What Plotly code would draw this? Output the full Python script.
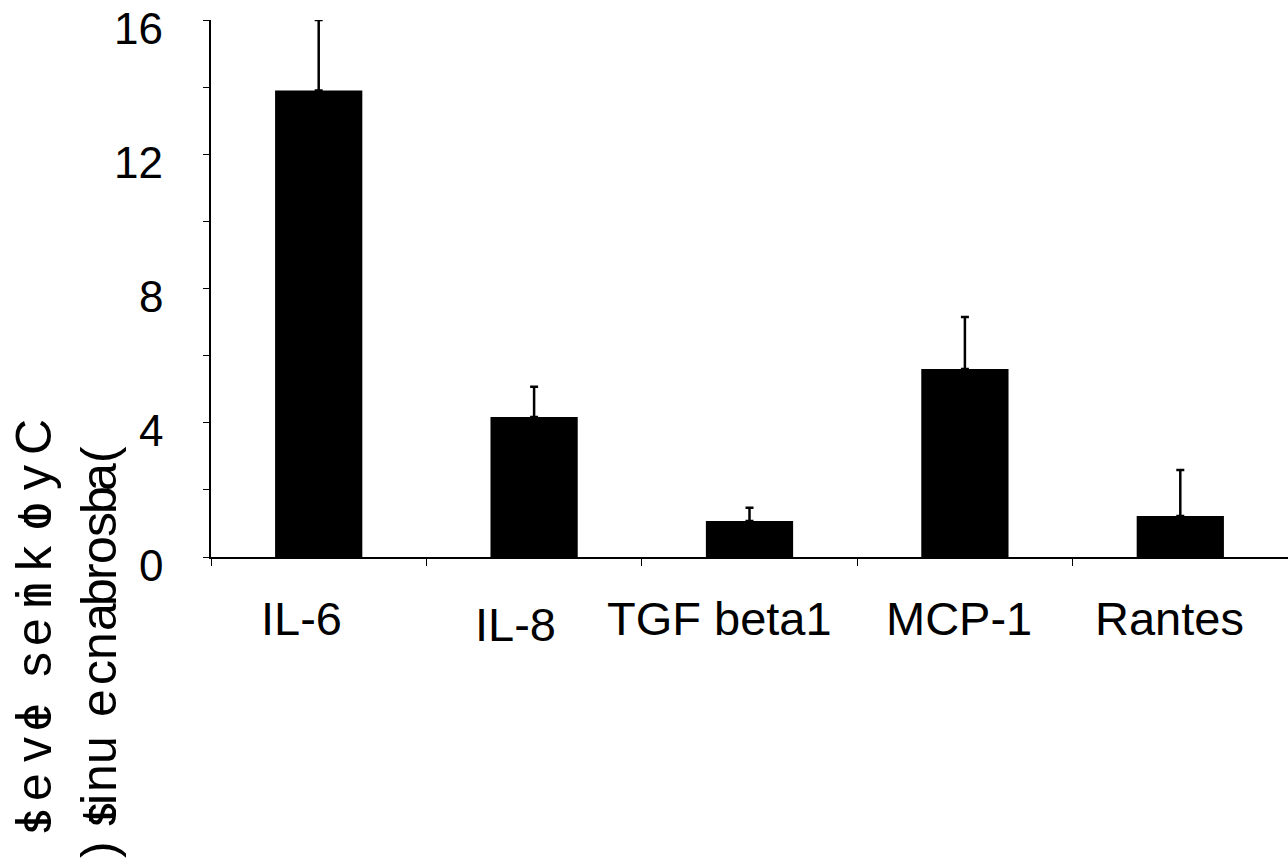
import plotly.graph_objects as go

categories = ["IL-6", "IL-8", "TGF beta1", "MCP-1", "Rantes"]
values = [13.9, 4.17, 1.07, 5.6, 1.22]
errors = [2.1, 0.9, 0.4, 1.55, 1.37]
y_ticks = [0, 4, 8, 12, 16]

FONT = "Liberation Sans, Arial, sans-serif"
W, H = 1288, 860
L, R, T, B = 211, 0, 20, 303
PW, PH = W - L - R, H - T - B

fig = go.Figure()
fig.add_trace(go.Bar(
    x=categories, y=values,
    marker=dict(color="black", line=dict(width=0)),
    width=0.405,
    error_y=dict(type="data", array=errors, arrayminus=[0] * len(errors),
                 symmetric=False, color="black", thickness=2.5, width=4),
))

# y tick labels (sit slightly below their ticks in the reference)
for v in y_ticks:
    fig.add_annotation(x=0, y=v, xref="paper", yref="y", text=str(v), showarrow=False,
                       xanchor="right", yanchor="middle", xshift=-46, yshift=-8,
                       font=dict(family=FONT, size=44, color="black"))

# category labels (slightly offset like the reference)
label_dx = [-17, -19, -30, -6, -11]
label_dy = [-61, -67, -61, -61, -61]
for c, dx, dy in zip(categories, label_dx, label_dy):
    fig.add_annotation(x=c, y=0, xref="x", yref="y", text=c, showarrow=False,
                       xanchor="center", yanchor="middle", xshift=dx, yshift=dy,
                       font=dict(family=FONT, size=47, color="black"))

# garbled rotated y-axis title, glyph by glyph
line1 = [("C", 437), ("y", 478), ("t", 516), ("o", 516), ("k", 558), ("n", 595),
         ("i", 595), ("e", 632), ("s", 665), ("l", 717), ("e", 717), ("v", 750),
         ("e", 787), ("l", 822), ("s", 822)]
line2 = [("(", 455), ("a", 477), ("b", 500), ("s", 525), ("o", 550), ("r", 572),
         ("b", 592), ("a", 617), ("n", 646), ("c", 673), ("e", 703), ("u", 750),
         ("n", 778), ("i", 800), ("t", 815), ("s", 815), (")", 850)]
for chars, px in ((line1, 34), (line2, 99)):
    for ch, py in chars:
        fig.add_annotation(x=(px - L) / PW, y=(H - B - py) / PH, xref="paper", yref="paper",
                           text=ch, showarrow=False, textangle=-90,
                           xanchor="center", yanchor="middle",
                           font=dict(family=FONT, size=50, color="black"))

fig.update_layout(
    width=W, height=H,
    margin=dict(l=L, r=R, t=T, b=B, pad=0, autoexpand=False),
    paper_bgcolor="white", plot_bgcolor="white",
    showlegend=False,
    xaxis=dict(range=[-0.5, 4.5], showticklabels=False, ticks="outside",
               tickson="boundaries", ticklen=7, tickwidth=1, tickcolor="black",
               showline=True, linecolor="black", linewidth=1.5, showgrid=False,
               zeroline=False, automargin=False),
    yaxis=dict(range=[0, 16], tickvals=y_ticks, showticklabels=False,
               ticks="outside", ticklen=6,
               tickwidth=1, tickcolor="black", showline=True, linecolor="black",
               linewidth=1.5, showgrid=False, zeroline=False, automargin=False,
               minor=dict(dtick=2, ticks="outside", ticklen=6, tickcolor="black",
                          tickwidth=1, showgrid=False)),
)

fig.write_html("out.html")
